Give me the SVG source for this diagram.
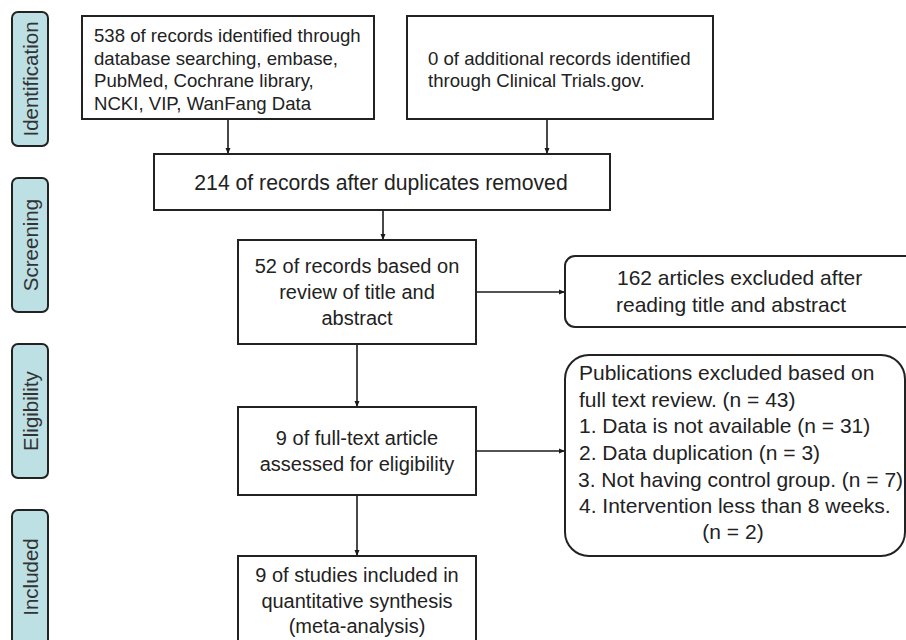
<svg xmlns="http://www.w3.org/2000/svg" width="906" height="640" viewBox="0 0 906 640">
<defs>
<marker id="ah" markerWidth="8" markerHeight="8" refX="7" refY="4" orient="auto" markerUnits="userSpaceOnUse">
<path d="M1,1.5 L7,4 L1,6.5 Z" fill="#1a1a1a"/>
</marker>
<style>
.box{fill:#fff;stroke:#222;stroke-width:2}
.lab{fill:#bde0e5;stroke:#222;stroke-width:2}
.t{font-family:"Liberation Sans",Arial,sans-serif;fill:#222}
.lt{font-family:"Liberation Sans",Arial,sans-serif;fill:#333;font-size:20.5px;text-anchor:middle}
.c{stroke:#1a1a1a;stroke-width:1.6;fill:none;marker-end:url(#ah)}
</style>
</defs>
<rect width="906" height="640" fill="#fff"/>

<g id="stage-identification">
<rect class="lab" x="12" y="12" width="36" height="134" rx="6"/>
<text class="lt" transform="translate(37.5,79) rotate(-90)">Identification</text>
</g>
<g id="stage-screening">
<rect class="lab" x="12" y="178" width="36" height="134" rx="6"/>
<text class="lt" transform="translate(37.5,245) rotate(-90)">Screening</text>
</g>
<g id="stage-eligibility">
<rect class="lab" x="12" y="344" width="36" height="134" rx="6"/>
<text class="lt" transform="translate(37.5,411) rotate(-90)">Eligibility</text>
</g>
<g id="stage-included">
<rect class="lab" x="12" y="510" width="36" height="140" rx="6"/>
<text class="lt" transform="translate(37.5,577) rotate(-90)">Included</text>
</g>

<g id="connectors">
<line class="c" x1="228" y1="119" x2="228" y2="154"/>
<line class="c" x1="547" y1="119" x2="547" y2="154"/>
<line class="c" x1="383" y1="210" x2="383" y2="240"/>
<line class="c" x1="357" y1="344" x2="357" y2="407"/>
<line class="c" x1="357" y1="495" x2="357" y2="556"/>
<line class="c" x1="476" y1="292" x2="565" y2="292"/>
<line class="c" x1="476" y1="451" x2="565" y2="451"/>
</g>

<g id="node-database">
<rect class="box" x="82" y="16" width="292" height="103"/>
<text class="t" font-size="18.6" x="94" y="42">538 of records identified through</text>
<text class="t" font-size="18.6" x="94" y="64.5">database searching, embase,</text>
<text class="t" font-size="18.6" x="94" y="87">PubMed, Cochrane library,</text>
<text class="t" font-size="18.6" x="94" y="109.5">NCKI, VIP, WanFang Data</text>
</g>

<g id="node-clinicaltrials">
<rect class="box" x="407" y="16" width="306" height="103"/>
<text class="t" font-size="18.6" x="428" y="65">0 of additional records identified</text>
<text class="t" font-size="18.6" x="428" y="87">through Clinical Trials.gov.</text>
</g>

<g id="node-duplicates">
<rect class="box" x="154" y="154" width="456" height="56"/>
<text class="t" font-size="21.2" x="381" y="190" text-anchor="middle">214 of records after duplicates removed</text>
</g>

<g id="node-screened">
<rect class="box" x="238" y="240" width="238" height="104"/>
<text class="t" font-size="20" x="357" y="273" text-anchor="middle">52 of records based on</text>
<text class="t" font-size="20" x="357" y="299" text-anchor="middle">review of title and</text>
<text class="t" font-size="20" x="357" y="325" text-anchor="middle">abstract</text>
</g>

<g id="node-excluded-abstract">
<rect class="box" x="565" y="256" width="360" height="71" rx="10"/>
<text class="t" font-size="21" x="617" y="285">162 articles excluded after</text>
<text class="t" font-size="21" x="616" y="312">reading title and abstract</text>
</g>

<g id="node-fulltext">
<rect class="box" x="238" y="407" width="238" height="88"/>
<text class="t" font-size="20" x="357" y="445" text-anchor="middle">9 of full-text article</text>
<text class="t" font-size="20" x="357" y="471" text-anchor="middle">assessed for eligibility</text>
</g>

<g id="node-excluded-fulltext">
<rect class="box" x="565" y="355" width="340" height="201" rx="24"/>
<text class="t" font-size="21" x="579" y="380">Publications excluded based on</text>
<text class="t" font-size="21" x="579" y="407">full text review. (n = 43)</text>
<text class="t" font-size="21" x="579" y="433">1. Data is not available (n = 31)</text>
<text class="t" font-size="21" x="579" y="460">2. Data duplication (n = 3)</text>
<text class="t" font-size="21" x="578" y="487">3. Not having control group. (n = 7)</text>
<text class="t" font-size="21" x="579" y="513">4. Intervention less than 8 weeks.</text>
<text class="t" font-size="21" x="733" y="539" text-anchor="middle">(n = 2)</text>
</g>

<g id="node-included">
<rect class="box" x="238" y="556" width="238" height="92"/>
<text class="t" font-size="20" x="357" y="582" text-anchor="middle">9 of studies included in</text>
<text class="t" font-size="20" x="357" y="607.5" text-anchor="middle">quantitative synthesis</text>
<text class="t" font-size="20" x="357" y="633" text-anchor="middle">(meta-analysis)</text>
</g>
</svg>
